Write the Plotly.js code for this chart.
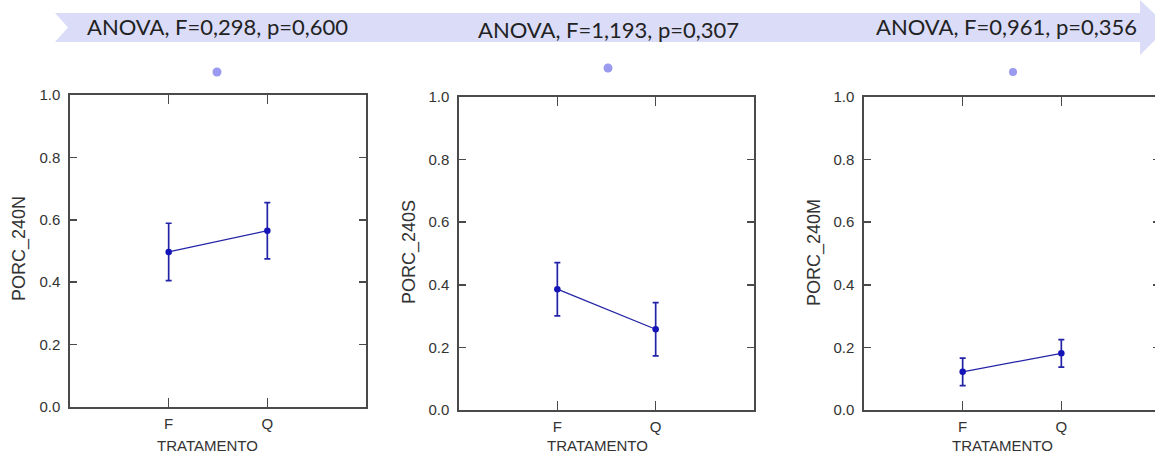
<!DOCTYPE html>
<html>
<head>
<meta charset="utf-8">
<script src="https://cdn.plot.ly/plotly-3.0.1.min.js"></script>
<style>
html,body{margin:0;padding:0;overflow:hidden;background:#fff;}
#chart{width:1170px;height:454px;}
</style>
</head>
<body>
<div id="chart"></div>
<script>
// ---- data ----
const categories = ['F', 'Q'];
const porc240N = [0.497, 0.565];
const porc240N_err = [0.092, 0.090];
const porc240S = [0.386, 0.258];
const porc240S_err = [0.085, 0.085];
const porc240M = [0.122, 0.181];
const porc240M_err = [0.044, 0.044];
const yTitles = ['PORC_240N', 'PORC_240S', 'PORC_240M'];
const xTitle = 'TRATAMENTO';
const anovaLabels = ['ANOVA, F=0,298, p=0,600', 'ANOVA, F=1,193, p=0,307', 'ANOVA, F=0,961, p=0,356'];
const yTickVals = [0, 0.2, 0.4, 0.6, 0.8, 1.0];

// ---- layout helpers ----
const W = 1170, H = 454;
const px = x => x / W;
const py = y => 1 - y / H;

const series = [
  {y: porc240N, e: porc240N_err},
  {y: porc240S, e: porc240S_err},
  {y: porc240M, e: porc240M_err}
];
const lineCol = '#2323a8';
const markCol = '#1414b8';

const traces = series.map((s, i) => ({
  type: 'scatter', mode: 'lines+markers',
  x: categories, y: s.y,
  xaxis: i === 0 ? 'x' : 'x' + (i + 1),
  yaxis: i === 0 ? 'y' : 'y' + (i + 1),
  line: {color: lineCol, width: 1.3},
  marker: {color: markCol, size: 6.5},
  error_y: {type: 'data', array: s.e, visible: true, color: lineCol, thickness: 1.7, width: 3},
  showlegend: false, hoverinfo: 'x+y'
}));

const panels = [
  {x0: 70, x1: 366, y0: 95, y1: 407, tx: 19, ty: 249, xt: 207},
  {x0: 459, x1: 754, y0: 97, y1: 410, tx: 409, ty: 252, xt: 597},
  {x0: 864, x1: 1160, y0: 97, y1: 410, tx: 814, ty: 253, xt: 1002}
];

const axisFont = {family: 'Liberation Sans, Arial, sans-serif', size: 15, color: '#333'};
const layout = {
  width: W, height: H,
  margin: {l: 0, r: 0, t: 0, b: 0, pad: 0},
  paper_bgcolor: '#fff', plot_bgcolor: '#fff',
  showlegend: false,
  shapes: [], annotations: []
};

panels.forEach((p, i) => {
  const sfx = i === 0 ? '' : String(i + 1);
  layout['xaxis' + sfx] = {
    domain: [px(p.x0), px(p.x1)],
    anchor: 'y' + sfx,
    type: 'category', range: [-1, 2],
    showline: true, mirror: 'ticks', linecolor: '#4a4a4a', linewidth: 1.6,
    ticks: 'inside', ticklen: 9, tickwidth: 1.5, tickcolor: '#4a4a4a',
    showgrid: false, zeroline: false,
    tickfont: axisFont, ticklabelstandoff: 2
  };
  layout['yaxis' + sfx] = {
    domain: [py(p.y1), py(p.y0)],
    anchor: 'x' + sfx,
    range: [0, 1],
    tickvals: yTickVals, tickformat: '.1f',
    showline: true, mirror: 'ticks', linecolor: '#4a4a4a', linewidth: 1.6,
    ticks: 'inside', ticklen: 7, tickwidth: 1.5, tickcolor: '#4a4a4a',
    showgrid: false, zeroline: false,
    tickfont: axisFont, ticklabelstandoff: 5
  };
  layout.annotations.push({
    xref: 'paper', yref: 'paper', x: px(p.tx), y: py(p.ty),
    text: yTitles[i], textangle: -90, showarrow: false,
    xanchor: 'center', yanchor: 'middle',
    font: {family: 'Liberation Sans, Arial, sans-serif', size: 18, color: '#333'}
  });
  layout.annotations.push({
    xref: 'paper', yref: 'paper', x: px(p.xt), y: py(445),
    text: xTitle, showarrow: false, xanchor: 'center', yanchor: 'middle',
    font: {family: 'Liberation Sans, Arial, sans-serif', size: 15, color: '#333'}
  });
});

// banner arrow
const bannerPts = [[55,13],[1140,13],[1140,0],[1168,27],[1140,55],[1140,42],[55,42],[68,27.5]];
layout.shapes.push({
  type: 'path', xref: 'paper', yref: 'paper', layer: 'below',
  path: 'M' + bannerPts.map(q => px(q[0]) + ',' + py(q[1])).join(' L') + ' Z',
  fillcolor: '#dadcf8', line: {width: 0}
});

// banner labels
const bannerText = [{x: 217, y: 26}, {x: 608, y: 30}, {x: 1006, y: 26}];
bannerText.forEach((b, i) => {
  layout.annotations.push({
    xref: 'paper', yref: 'paper', x: px(b.x), y: py(b.y),
    text: anovaLabels[i], showarrow: false, xanchor: 'center', yanchor: 'middle',
    font: {family: 'Lato, Open Sans, sans-serif', size: 22, color: '#222'}
  });
});

// bullet dots
const dots = [{x: 217, y: 72, r: 4.5}, {x: 608, y: 68, r: 4.5}, {x: 1013, y: 72, r: 4}];
dots.forEach(d => {
  layout.shapes.push({
    type: 'circle', xref: 'paper', yref: 'paper',
    x0: px(d.x - d.r), x1: px(d.x + d.r), y0: py(d.y + d.r), y1: py(d.y - d.r),
    fillcolor: '#9a9af0', line: {width: 0}
  });
});

Plotly.newPlot('chart', traces, layout, {displayModeBar: false, staticPlot: true});
</script>
</body>
</html>
